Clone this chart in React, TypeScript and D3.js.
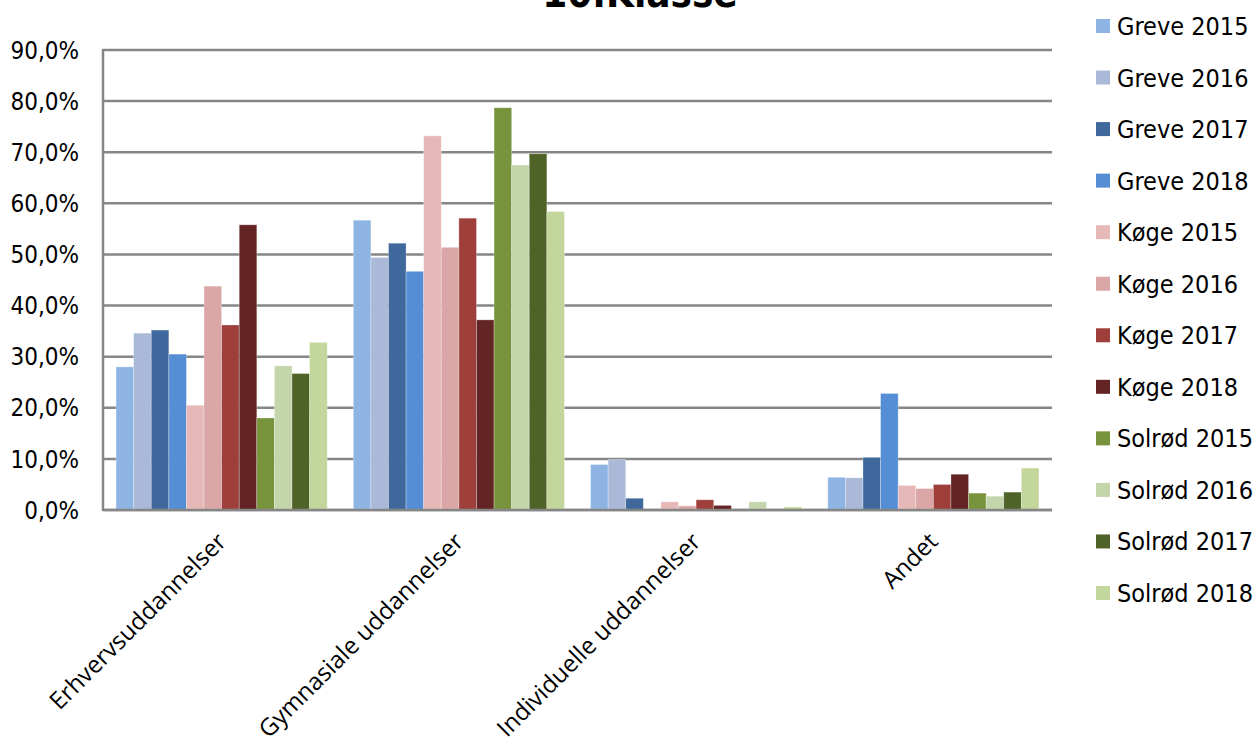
import React from "react";
import * as d3 from "d3";

const categories = ["Erhvervsuddannelser", "Gymnasiale uddannelser", "Individuelle uddannelser", "Andet"];
const seriesNames = [
  "Greve 2015", "Greve 2016", "Greve 2017", "Greve 2018",
  "Køge 2015", "Køge 2016", "Køge 2017", "Køge 2018",
  "Solrød 2015", "Solrød 2016", "Solrød 2017", "Solrød 2018",
];
const seriesColors = [
  "#8EB4E3", "#A9B9D7", "#3F699D", "#558ED5",
  "#E6B9B8", "#DBA7A6", "#9E3F3C", "#632523",
  "#77933C", "#C4D5AC", "#4F6228", "#C3D69B",
];
// values per series (in %), order = categories
const greve2015 = [28.0, 56.7, 8.9, 6.4];
const greve2016 = [34.6, 49.4, 9.9, 6.3];
const greve2017 = [35.2, 52.2, 2.3, 10.3];
const greve2018 = [30.5, 46.7, 0.0, 22.8];
const koge2015 = [20.5, 73.2, 1.6, 4.8];
const koge2016 = [43.8, 51.4, 0.8, 4.2];
const koge2017 = [36.2, 57.1, 2.0, 5.0];
const koge2018 = [55.8, 37.2, 0.9, 7.0];
const solrod2015 = [18.0, 78.7, 0.0, 3.3];
const solrod2016 = [28.2, 67.5, 1.6, 2.7];
const solrod2017 = [26.7, 69.7, 0.0, 3.5];
const solrod2018 = [32.8, 58.4, 0.6, 8.2];
const seriesValues = [
  greve2015, greve2016, greve2017, greve2018,
  koge2015, koge2016, koge2017, koge2018,
  solrod2015, solrod2016, solrod2017, solrod2018,
];
const yTicks = [0, 10, 20, 30, 40, 50, 60, 70, 80, 90];
const title = "10.Klasse";

const W = 1258;
const H = 747;
const plotLeft = 103;
const plotRight = 1052;
const plotTop = 50;
const plotBottom = 510;
const tickFont = "'DejaVu Sans Condensed', 'DejaVu Sans', sans-serif";
const catFont = "'Open Sans', sans-serif";
const gridColor = "#868686";

export default function App() {
  const y = d3.scaleLinear().domain([0, 90]).range([plotBottom, plotTop]);
  const x0 = d3.scaleBand<string>().domain(categories).range([plotLeft, plotRight]).padding(0);
  const groupPad = x0.bandwidth() * 0.055;
  const x1 = d3
    .scaleBand<string>()
    .domain(seriesNames)
    .range([groupPad, x0.bandwidth() - groupPad])
    .padding(0);
  const legendY = d3.scalePoint<string>().domain(seriesNames).range([26, 593]);
  const fmt = (v: number) => v.toFixed(1).replace(".", ",") + "%";

  return (
    <div style={{ position: "absolute", left: 0, top: 0 }}>
      <svg width={W} height={H} style={{ display: "block", background: "#fff" }}>
        <text
          x={640}
          y={7}
          textAnchor="middle"
          fontFamily={tickFont}
          fontWeight="bold"
          fontSize={40}
          fill="#000"
        >
          {title}
        </text>
        {/* gridlines */}
        {yTicks.map((t) => (
          <line
            key={"g" + t}
            x1={plotLeft}
            x2={plotRight}
            y1={y(t)}
            y2={y(t)}
            stroke={gridColor}
            strokeWidth={2.5}
          />
        ))}
        {/* y axis line */}
        <line x1={plotLeft} x2={plotLeft} y1={plotTop - 1} y2={plotBottom + 1} stroke={gridColor} strokeWidth={2.5} />
        {/* y tick labels */}
        {yTicks.map((t) => (
          <text
            key={"yl" + t}
            x={79}
            y={y(t)}
            dy="0.36em"
            textAnchor="end"
            fontFamily={tickFont}
            fontSize={24}
            fill="#000"
          >
            {fmt(t)}
          </text>
        ))}
        {/* bars */}
        {categories.map((c, ci) => (
          <g key={c} transform={`translate(${x0(c)},0)`}>
            {seriesNames.map((s, si) => {
              const v = seriesValues[si][ci];
              if (v <= 0) return null;
              return (
                <rect
                  key={s}
                  x={x1(s)}
                  y={y(v)}
                  width={x1.bandwidth()}
                  height={y(0) - y(v)}
                  fill={seriesColors[si]}
                  stroke="#ffffff"
                  strokeOpacity={0.35}
                  strokeWidth={0.8}
                />
              );
            })}
          </g>
        ))}
        {/* x axis line */}
        <line x1={plotLeft} x2={plotRight} y1={plotBottom} y2={plotBottom} stroke={gridColor} strokeWidth={2.5} />
        {/* category labels */}
        {categories.map((c) => {
          const cx = (x0(c) as number) + x0.bandwidth() / 2;
          return (
            <text
              key={"cl" + c}
              transform={`translate(${cx + 6},${543}) rotate(-45)`}
              textAnchor="end"
              fontFamily={catFont}
              fontSize={24}
              fill="#000"
            >
              {c}
            </text>
          );
        })}
        {/* legend */}
        {seriesNames.map((s, si) => (
          <g key={"lg" + s} transform={`translate(1096,${legendY(s)})`}>
            <rect x={0} y={-7} width={14} height={14} fill={seriesColors[si]} />
            <text x={21} y={0} dy="0.36em" fontFamily={tickFont} fontSize={25} fill="#000">
              {s}
            </text>
          </g>
        ))}
      </svg>
    </div>
  );
}
